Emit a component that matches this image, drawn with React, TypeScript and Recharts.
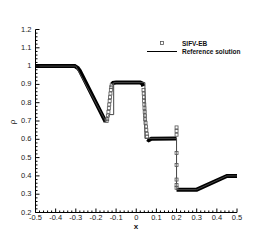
import React from 'react';
import { ComposedChart, Line, Scatter, XAxis, YAxis, Legend, Label } from 'recharts';

// x-axis / y-axis major tick values and labels
const xMajorTicks = [-0.5, -0.4, -0.3, -0.2, -0.1, 0, 0.1, 0.2, 0.3, 0.4, 0.5];
const xTickLabels = ['-0.5', '-0.4', '-0.3', '-0.2', '-0.1', '0', '0.1', '0.2', '0.3', '0.4', '0.5'];
const yMajorTicks = [0.2, 0.3, 0.4, 0.5, 0.6, 0.7, 0.8, 0.9, 1, 1.1, 1.2];
const yTickLabels = ['0.2', '0.3', '0.4', '0.5', '0.6', '0.7', '0.8', '0.9', '1', '1.1', '1.2'];

// SIFV-EB numerical solution: smooth parts (dense markers, drawn as a thick trace)
const numericRarefaction = [
  { x: -0.5, y: 1 }, { x: -0.305, y: 1 }, { x: -0.29, y: 0.99 }, { x: -0.28, y: 0.975 },
  { x: -0.152, y: 0.695 },
];
const numericUpperPlateau = [
  { x: -0.122, y: 0.9 }, { x: -0.115, y: 0.908 }, { x: -0.1, y: 0.91 }, { x: 0.02, y: 0.91 },
  { x: 0.03, y: 0.905 }, { x: 0.035, y: 0.89 },
];
const numericLowerPlateau = [
  { x: 0.055, y: 0.6 }, { x: 0.062, y: 0.595 }, { x: 0.075, y: 0.603 }, { x: 0.2, y: 0.605 },
];
const numericRight = [
  { x: 0.2, y: 0.325 }, { x: 0.3, y: 0.325 }, { x: 0.45, y: 0.4 }, { x: 0.5, y: 0.4 },
];
// SIFV-EB numerical solution: individual cells across discontinuities
const numericJumpCells = [
  { x: -0.147, y: 0.7 }, { x: -0.144, y: 0.71 }, { x: -0.141, y: 0.73 }, { x: -0.138, y: 0.75 },
  { x: -0.136, y: 0.77 }, { x: -0.134, y: 0.79 }, { x: -0.132, y: 0.81 }, { x: -0.13, y: 0.83 },
  { x: -0.128, y: 0.85 }, { x: -0.126, y: 0.87 }, { x: -0.124, y: 0.885 }, { x: -0.122, y: 0.895 },
  { x: 0.036, y: 0.87 }, { x: 0.037, y: 0.85 }, { x: 0.038, y: 0.83 }, { x: 0.039, y: 0.81 },
  { x: 0.04, y: 0.79 }, { x: 0.041, y: 0.77 }, { x: 0.042, y: 0.75 }, { x: 0.043, y: 0.73 },
  { x: 0.044, y: 0.71 }, { x: 0.046, y: 0.69 }, { x: 0.048, y: 0.67 }, { x: 0.05, y: 0.65 },
  { x: 0.052, y: 0.63 }, { x: 0.054, y: 0.615 },
  { x: 0.2, y: 0.665 }, { x: 0.2, y: 0.645 }, { x: 0.2, y: 0.625 }, { x: 0.2, y: 0.525 },
  { x: 0.2, y: 0.46 }, { x: 0.2, y: 0.38 }, { x: 0.2, y: 0.35 }, { x: 0.2, y: 0.335 },
];
// Reference solution
const referenceSolution = [
  { x: -0.5, y: 1 }, { x: -0.3, y: 1 }, { x: -0.152, y: 0.7 }, { x: -0.135, y: 0.735 },
  { x: -0.112, y: 0.735 }, { x: -0.112, y: 0.91 }, { x: 0.043, y: 0.91 }, { x: 0.043, y: 0.605 },
  { x: 0.2, y: 0.605 }, { x: 0.2, y: 0.325 }, { x: 0.3, y: 0.325 }, { x: 0.45, y: 0.4 },
  { x: 0.5, y: 0.4 },
];

const FONT = '"Liberation Sans", Arial, sans-serif';

function withMinor(majors: number[]): number[] {
  const out: number[] = [];
  for (let i = 0; i < majors.length; i++) {
    out.push(majors[i]);
    if (i < majors.length - 1) {
      const step = (majors[i + 1] - majors[i]) / 5;
      for (let k = 1; k < 5; k++) out.push(+(majors[i] + step * k).toFixed(4));
    }
  }
  return out;
}

const xTicks = withMinor(xMajorTicks);
const yTicks = withMinor(yMajorTicks);

function majorIndex(list: number[], v: number) {
  return list.findIndex((m) => Math.abs(m - v) < 1e-6);
}

const XTick = (props: any) => {
  const { x, y, payload } = props;
  const idx = majorIndex(xMajorTicks, payload.value);
  const major = idx >= 0;
  return (
    <g>
      <line x1={x} y1={y} x2={x} y2={y - (major ? 4 : 2)} stroke="#000" strokeWidth={1} />
      {major && (
        <text x={x} y={y + 5.2} textAnchor="middle" dominantBaseline="central" fontSize={7.5} fontFamily={FONT} fill="#222">
          {xTickLabels[idx]}
        </text>
      )}
    </g>
  );
};

const YTick = (props: any) => {
  const { x, y, payload } = props;
  const idx = majorIndex(yMajorTicks, payload.value);
  const major = idx >= 0;
  return (
    <g>
      <line x1={x} y1={y} x2={x + (major ? 4 : 2)} y2={y} stroke="#000" strokeWidth={1} />
      {major && (
        <text x={x - 4} y={y - 0.5} textAnchor="end" dominantBaseline="central" fontSize={7.5} fontFamily={FONT} fill="#222">
          {yTickLabels[idx]}
        </text>
      )}
    </g>
  );
};

const SquareMarker = (props: any) => {
  const { cx, cy } = props;
  if (cx == null || cy == null) return null;
  return <rect x={cx - 1.5} y={cy - 1.5} width={3} height={3} fill="#fff" fillOpacity={0.3} stroke="#555" strokeWidth={0.8} />;
};

const LegendContent = () => (
  <svg width={125} height={22} style={{ display: 'block' }}>
    <rect x={19.5} y={4.5} width={3} height={3} fill="none" stroke="#555" strokeWidth={0.8} />
    <text x={41} y={6.2} dominantBaseline="central" fontSize={6.5} fontWeight="bold" fontFamily={FONT} fill="#111">
      SIFV-EB
    </text>
    <line x1={6} y1={14.5} x2={36} y2={14.5} stroke="#000" strokeWidth={1} />
    <text x={41} y={14.5} dominantBaseline="central" fontSize={6.5} fontWeight="bold" fontFamily={FONT} fill="#111">
      Reference solution
    </text>
  </svg>
);

export default function App() {
  return (
    <div style={{ position: 'absolute', left: 0, top: 0, width: 270, height: 240, background: '#fff' }}>
      <ComposedChart width={270} height={240} margin={{ top: 29.5, right: 33, bottom: 0, left: 6 }}>
        <XAxis
          type="number"
          dataKey="x"
          domain={[-0.5, 0.5]}
          ticks={xTicks}
          interval={0}
          tick={<XTick />}
          tickLine={false}
          tickSize={0}
          tickMargin={0}
          height={27.5}
          axisLine={{ stroke: '#000', strokeWidth: 1 }}
          allowDataOverflow
        >
          <Label
            content={() => (
              <text x={136} y={226.5} textAnchor="middle" dominantBaseline="central" fontSize={8} fontWeight="bold" fontFamily={FONT} fill="#111">
                x
              </text>
            )}
          />
        </XAxis>
        <YAxis
          type="number"
          dataKey="y"
          domain={[0.2, 1.2]}
          ticks={yTicks}
          interval={0}
          tick={<YTick />}
          tickLine={false}
          tickSize={0}
          tickMargin={0}
          width={29.5}
          axisLine={{ stroke: '#000', strokeWidth: 1 }}
          allowDataOverflow
        >
          <Label
            content={() => (
              <text x={12} y={122} textAnchor="middle" dominantBaseline="central" fontSize={8} fontFamily={FONT} fill="#111" transform="rotate(-90 12 122)">
                ρ
              </text>
            )}
          />
        </YAxis>
        <Legend
          layout="vertical"
          align="center"
          verticalAlign="middle"
          content={<LegendContent />}
          wrapperStyle={{ position: 'absolute', left: 141, top: 37, width: 125, height: 22 }}
        />
        <Line data={numericRarefaction} dataKey="y" type="linear" stroke="#000" strokeWidth={4} dot={false} isAnimationActive={false} legendType="none" />
        <Line data={numericUpperPlateau} dataKey="y" type="linear" stroke="#000" strokeWidth={4} dot={false} isAnimationActive={false} legendType="none" />
        <Line data={numericLowerPlateau} dataKey="y" type="linear" stroke="#000" strokeWidth={4} dot={false} isAnimationActive={false} legendType="none" />
        <Line data={numericRight} dataKey="y" type="linear" stroke="#000" strokeWidth={4} dot={false} isAnimationActive={false} legendType="none" />
        <Line data={referenceSolution} dataKey="y" type="linear" stroke="#444" strokeWidth={1} dot={false} isAnimationActive={false} name="Reference solution" />
        <Scatter data={numericJumpCells} dataKey="y" shape={<SquareMarker />} isAnimationActive={false} name="SIFV-EB" />
      </ComposedChart>
    </div>
  );
}
